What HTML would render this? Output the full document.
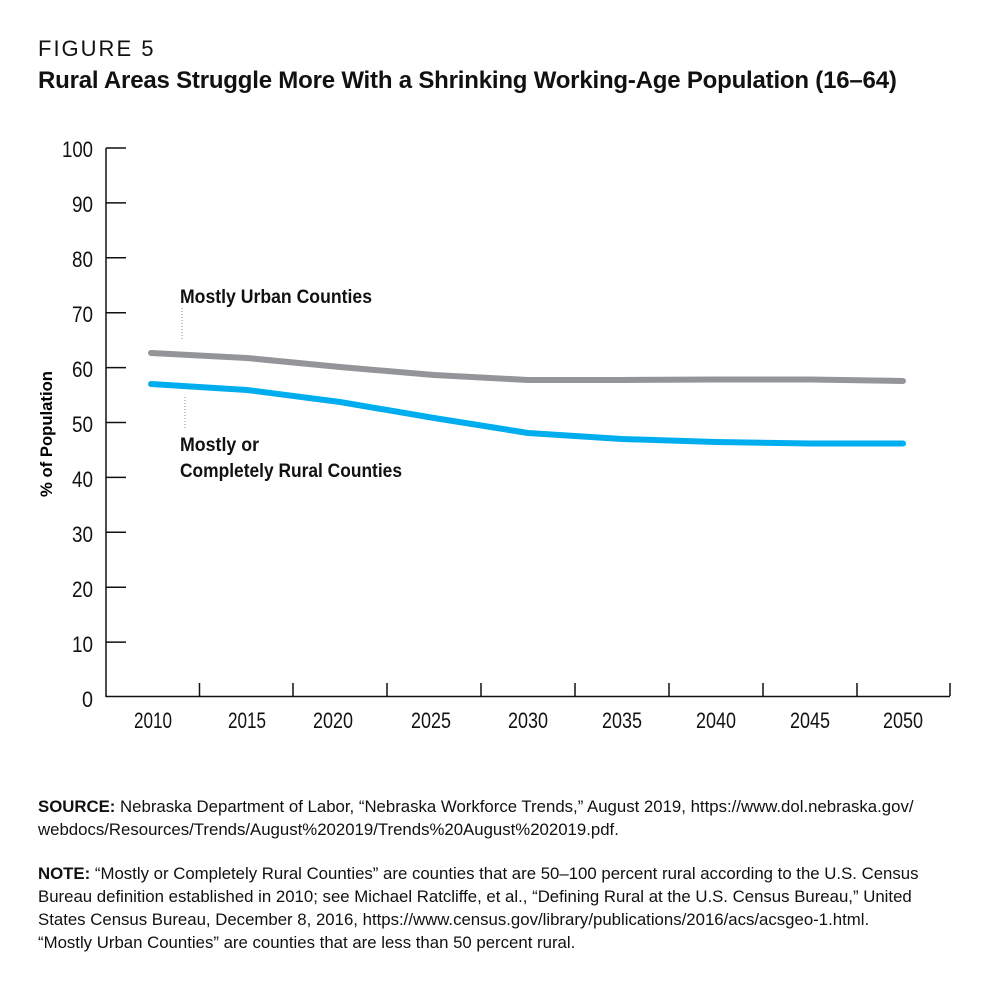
<!DOCTYPE html>
<html><head><meta charset="utf-8"><style>
body{margin:0;background:#fff;width:1000px;height:987px;overflow:hidden;font-family:"Liberation Sans",sans-serif;color:#111}
.fig{position:absolute;left:38px;top:36px;font-size:22px;letter-spacing:2px}
.title{position:absolute;left:38px;top:67px;font-size:24px;font-weight:bold;letter-spacing:-0.2px;white-space:nowrap}
.foot{position:absolute;left:38px;font-size:16.8px;line-height:23px;width:960px;white-space:nowrap}
</style></head><body>
<div class="fig">FIGURE 5</div>
<div class="title">Rural Areas Struggle More With a Shrinking Working-Age Population (16–64)</div>
<svg width="1000" height="987" style="position:absolute;left:0;top:0" font-family="'Liberation Sans',sans-serif">
<g stroke="#111" stroke-width="1.5" fill="none">
<line x1="106" y1="148" x2="106" y2="697"/>
<line x1="106" y1="696.5" x2="950" y2="696.5"/>
<line x1="106" y1="148" x2="126" y2="148"/>
<line x1="106" y1="202.9" x2="126" y2="202.9"/>
<line x1="106" y1="257.8" x2="126" y2="257.8"/>
<line x1="106" y1="312.7" x2="126" y2="312.7"/>
<line x1="106" y1="367.6" x2="126" y2="367.6"/>
<line x1="106" y1="422.5" x2="126" y2="422.5"/>
<line x1="106" y1="477.4" x2="126" y2="477.4"/>
<line x1="106" y1="532.3" x2="126" y2="532.3"/>
<line x1="106" y1="587.2" x2="126" y2="587.2"/>
<line x1="106" y1="642.1" x2="126" y2="642.1"/>
<line x1="199.5" y1="683" x2="199.5" y2="696"/>
<line x1="293" y1="683" x2="293" y2="696"/>
<line x1="387" y1="683" x2="387" y2="696"/>
<line x1="481" y1="683" x2="481" y2="696"/>
<line x1="575" y1="683" x2="575" y2="696"/>
<line x1="669" y1="683" x2="669" y2="696"/>
<line x1="763" y1="683" x2="763" y2="696"/>
<line x1="857" y1="683" x2="857" y2="696"/>
<line x1="950" y1="683" x2="950" y2="696"/>
</g>
<g font-size="22" fill="#111">
<text x="62" y="157" textLength="31" lengthAdjust="spacingAndGlyphs">100</text>
<text x="72" y="212" textLength="21" lengthAdjust="spacingAndGlyphs">90</text>
<text x="72" y="267" textLength="21" lengthAdjust="spacingAndGlyphs">80</text>
<text x="72" y="322" textLength="21" lengthAdjust="spacingAndGlyphs">70</text>
<text x="72" y="377" textLength="21" lengthAdjust="spacingAndGlyphs">60</text>
<text x="72" y="432" textLength="21" lengthAdjust="spacingAndGlyphs">50</text>
<text x="72" y="487" textLength="21" lengthAdjust="spacingAndGlyphs">40</text>
<text x="72" y="542" textLength="21" lengthAdjust="spacingAndGlyphs">30</text>
<text x="72" y="597" textLength="21" lengthAdjust="spacingAndGlyphs">20</text>
<text x="72" y="652" textLength="21" lengthAdjust="spacingAndGlyphs">10</text>
<text x="82" y="707" textLength="11" lengthAdjust="spacingAndGlyphs">0</text>
</g>
<g font-size="22" fill="#111">
<text x="134" y="728" textLength="38" lengthAdjust="spacingAndGlyphs">2010</text>
<text x="228" y="728" textLength="38" lengthAdjust="spacingAndGlyphs">2015</text>
<text x="313" y="728" textLength="40" lengthAdjust="spacingAndGlyphs">2020</text>
<text x="411" y="728" textLength="40" lengthAdjust="spacingAndGlyphs">2025</text>
<text x="508" y="728" textLength="40" lengthAdjust="spacingAndGlyphs">2030</text>
<text x="602" y="728" textLength="40" lengthAdjust="spacingAndGlyphs">2035</text>
<text x="696" y="728" textLength="40" lengthAdjust="spacingAndGlyphs">2040</text>
<text x="790" y="728" textLength="40" lengthAdjust="spacingAndGlyphs">2045</text>
<text x="883" y="728" textLength="40" lengthAdjust="spacingAndGlyphs">2050</text>
</g>
<text transform="translate(52,434) rotate(-90)" font-size="17" font-weight="bold" text-anchor="middle" textLength="126" lengthAdjust="spacingAndGlyphs">% of Population</text>
<polyline fill="none" stroke="#939598" stroke-width="6" stroke-linecap="round" stroke-linejoin="round" points="151,353 247,358 340,367 434,375 528,380 622,380 716,379.5 810,379.5 903,381"/>
<polyline fill="none" stroke="#00aeef" stroke-width="6" stroke-linecap="round" stroke-linejoin="round" points="151,384 247,390 340,402 434,418 528,433 622,439 716,442 810,443.5 903,443.5"/>
<line x1="182" y1="308" x2="182" y2="340" stroke="#888" stroke-width="1" stroke-dasharray="1,2"/>
<line x1="185" y1="397" x2="185" y2="430" stroke="#888" stroke-width="1" stroke-dasharray="1,2"/>
<g font-size="19" font-weight="bold" fill="#111">
<text x="180" y="303" textLength="192" lengthAdjust="spacingAndGlyphs">Mostly Urban Counties</text>
<text x="180" y="451" textLength="79" lengthAdjust="spacingAndGlyphs">Mostly or</text>
<text x="180" y="477" textLength="222" lengthAdjust="spacingAndGlyphs">Completely Rural Counties</text>
</g>
</svg>
<div class="foot" style="top:795px"><b>SOURCE:</b> Nebraska Department of Labor, “Nebraska Workforce Trends,” August 2019, https://www.dol.nebraska.gov/<br>webdocs/Resources/Trends/August%202019/Trends%20August%202019.pdf.</div>
<div class="foot" style="top:862px"><b>NOTE:</b> “Mostly or Completely Rural Counties” are counties that are 50–100 percent rural according to the U.S. Census<br>Bureau definition established in 2010; see Michael Ratcliffe, et al., “Defining Rural at the U.S. Census Bureau,” United<br>States Census Bureau, December 8, 2016, https://www.census.gov/library/publications/2016/acs/acsgeo-1.html.<br>“Mostly Urban Counties” are counties that are less than 50 percent rural.</div>
</body></html>
